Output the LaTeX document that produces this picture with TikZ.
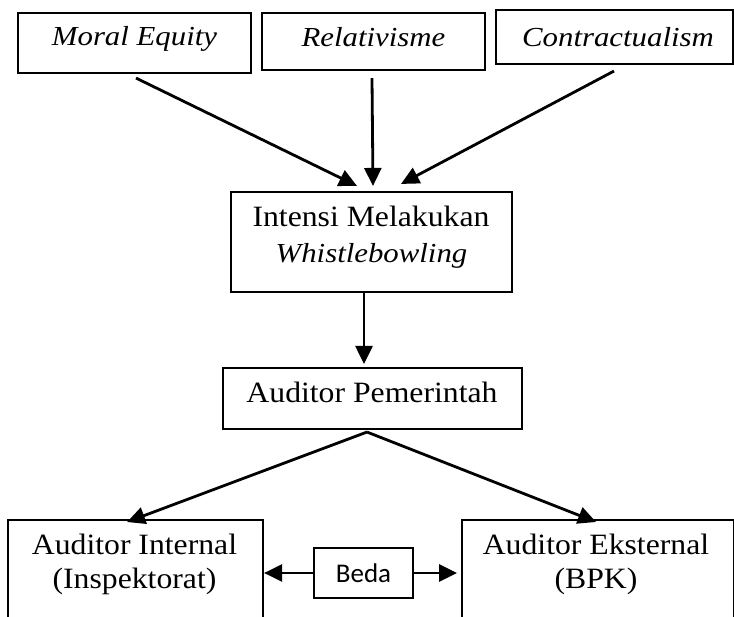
\documentclass[tikz,border=0pt]{standalone}
\usepackage{fontspec}
\setmainfont{Liberation Serif}[FakeStretch=1.075]
\newfontfamily\itfam{Liberation Serif}[FakeStretch=1.12]
\newfontfamily\bedafont{Carlito}
\usetikzlibrary{arrows.meta}
\begin{document}
\begin{tikzpicture}[x=1pt,y=-1pt,
  frame/.style={draw, line width=2.1pt, inner sep=0pt},
  up/.style={font=\fontsize{29.5}{36}\selectfont, inner sep=0pt, anchor=base},
  it/.style={font=\itfam\itshape\fontsize{27.5}{36}\selectfont, inner sep=0pt, anchor=base},
  arr/.style={line width=2.8pt, -{Triangle[length=18pt,width=17pt]}}]
\useasboundingbox (0,0) rectangle (734,617);
\clip (0,0) rectangle (734,617);
% top boxes
\node[frame, minimum width=233pt, minimum height=60pt] (me) at (134.5,43) {};
\node[it] (met) at (134.5,46) {Moral Equity};
\node[frame, minimum width=223pt, minimum height=57pt] (re) at (373.5,41.5) {};
\node[it] (ret) at (373.5,47) {Relativisme};
\node[frame, minimum width=237pt, minimum height=54pt] (co) at (614.5,37) {};
\node[it] (cot) at (618,47) {Contractualism};
% intention box
\node[frame, minimum width=281pt, minimum height=100pt] (in) at (371.5,242) {};
\node[up] (int1) at (371,227) {Intensi Melakukan};
\node[it] (int2) at (371.5,263) {Whistlebowling};
% auditor pemerintah
\node[frame, minimum width=299pt, minimum height=61pt] (ap) at (372.5,398.5) {};
\node[up] (apt) at (372,403) {Auditor Pemerintah};
% bottom boxes (open at the bottom edge of the picture)
\node[frame, minimum width=255pt, minimum height=140pt, anchor=north west] (ai) at (7,519) {};
\node[up] (ait1) at (134.5,554) {Auditor Internal};
\node[up] (ait2) at (134.5,588) {(Inspektorat)};
\node[frame, minimum width=272pt, minimum height=140pt, anchor=north west] (ae) at (461,519) {};
\node[up] (aet1) at (596,554) {Auditor Eksternal};
\node[up] (aet2) at (596,588) {(BPK)};
% beda
\node[draw, line width=1.3pt, minimum width=99pt, minimum height=50pt, font=\bedafont\fontsize{27}{32}\selectfont] (bd) at (363.5,573) {Beda};
% connectors
\draw[arr] ([xshift=1.5pt,yshift=-4pt]me.south) -- ([xshift=-14.5pt,yshift=5pt]in.north);
\draw[arr] ([xshift=-1.5pt,yshift=-7pt]re.south) -- ([xshift=1.5pt,yshift=5pt]in.north);
\draw[arr] ([xshift=-0.5pt,yshift=-6pt]co.south) -- ([xshift=29.5pt,yshift=7pt]in.north);
\draw[arr] ([xshift=-7.5pt]in.south) -- ([xshift=-8.5pt,yshift=3pt]ap.north);
\draw[arr] ([xshift=-5.5pt,yshift=-2pt]ap.south) -- ([xshift=-8.5pt,yshift=-3pt]ai.north);
\draw[arr] ([xshift=-5.5pt,yshift=-2pt]ap.south) -- ([xshift=-2pt,yshift=-3pt]ae.north);
\draw[arr] (bd.west) -- (bd.west -| ai.east);
\draw[arr] (bd.east) -- ([xshift=-4pt]bd.east -| ae.west);
\end{tikzpicture}
\end{document}
